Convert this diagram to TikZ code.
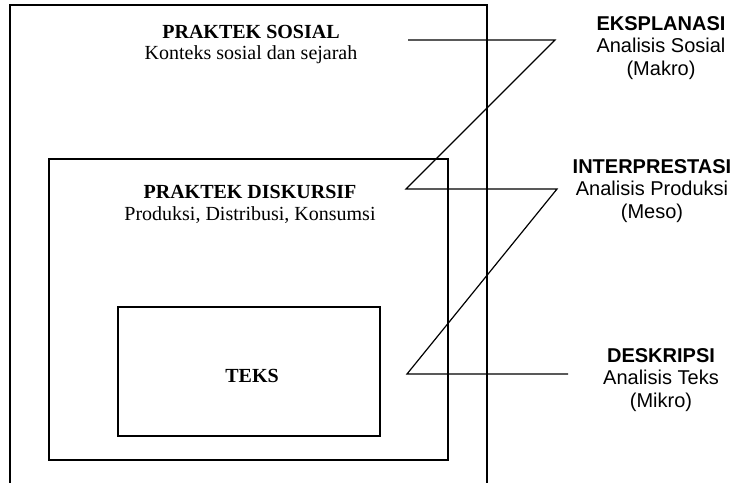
\documentclass[tikz,border=0pt]{standalone}
\usepackage{fontspec}
\setmainfont{Liberation Serif}
\newfontfamily\labelfont{Liberation Sans}
\begin{document}
\begin{tikzpicture}[x=1pt,y=-1pt,
  box/.style={draw=black,line width=1.2pt,rectangle,inner sep=0pt},
  zig/.style={draw=black,line width=1.2pt,line join=miter},
  serifhead/.style={font=\fontsize{20}{23}\selectfont\bfseries,align=center},
  seriftext/.style={font=\fontsize{20}{23}\selectfont,align=center},
  sidelabel/.style={font=\labelfont\fontsize{20}{22.5}\selectfont,align=center}]
\useasboundingbox (0,0) rectangle (744,482);
% outer box (bottom edge is outside the picture)
\coordinate (oBL) at (10,490);
\coordinate (oTL) at (10,5);
\coordinate (oTR) at (487,5);
\coordinate (oBR) at (487,490);
\draw[zig] (oBL) -- (oTL) -- (oTR) -- (oBR);
% middle and inner boxes
\node[box,minimum width=399pt,minimum height=301pt] (mid) at (248.5,309.5) {};
\node[box,minimum width=262pt,minimum height=129pt] (inner) at (249,371.5) {};
% texts
\node[serifhead] (ps) at (251,32) {PRAKTEK SOSIAL};
\node[seriftext] (pst) at (251,55) {Konteks sosial dan sejarah};
\node[serifhead] (pd) at (250,192) {PRAKTEK DISKURSIF};
\node[seriftext] (pdt) at (250,215) {Produksi, Distribusi, Konsumsi};
\node[serifhead] (teks) at (252,376) {TEKS};
\node[sidelabel] (eks) at (661,48) {\textbf{EKSPLANASI}\\Analisis Sosial\\(Makro)};
\node[sidelabel] (int) at (652,191) {\textbf{INTERPRESTASI}\\Analisis Produksi\\(Meso)};
\node[sidelabel] (des) at (661,380) {\textbf{DESKRIPSI}\\Analisis Teks\\(Mikro)};
% zigzag
\coordinate (z1) at (408,40);
\coordinate (z2) at (555,40);
\coordinate (z3) at (406,189);
\coordinate (z4) at (557,189);
\coordinate (z5) at (407,374);
\coordinate (z6) at (568,374);
\draw[zig] (z1) -- (z2) -- (z3) -- (z4) -- (z5) -- (z6);
\end{tikzpicture}
\end{document}
